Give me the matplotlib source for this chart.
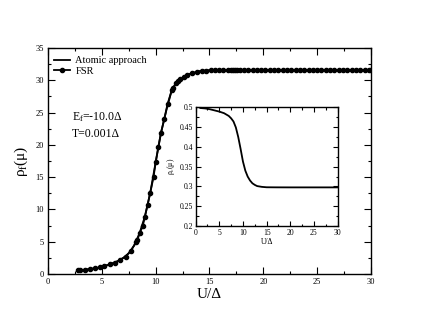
import matplotlib
matplotlib.use("Agg")
import matplotlib.pyplot as plt
from matplotlib.ticker import MultipleLocator

plt.rcParams['font.family'] = ['Liberation Serif', 'DejaVu Serif']
plt.rcParams['mathtext.fontset'] = 'custom'
plt.rcParams['mathtext.rm'] = 'Liberation Serif'
plt.rcParams['mathtext.it'] = 'Liberation Serif:italic'

# FSR data (main panel)
fsr_u = [2.8, 3.0, 3.4, 3.9, 4.4, 4.8, 5.2, 5.8, 6.2, 6.7, 7.2, 7.7, 8.2, 8.3,
         8.5, 8.8, 9.0, 9.25, 9.5, 9.8, 10.0, 10.25, 10.5, 10.8, 11.1, 11.5,
         11.6, 11.9, 12.1, 12.3, 12.6, 12.9, 13.4, 13.8, 14.3, 14.7, 15.1,
         15.5, 15.9, 16.3, 16.7, 17.0, 17.2, 17.4, 17.6, 17.8, 18.2, 18.6,
         19.0, 19.4, 19.8, 20.2, 20.6, 21.0, 21.4, 21.8, 22.2, 22.6, 23.0,
         23.4, 23.8, 24.2, 24.6, 25.0, 25.4, 25.8, 26.2, 26.6, 27.0, 27.4,
         27.8, 28.2, 28.6, 29.0, 29.4, 29.8, 30.0]
fsr_rho = [0.55, 0.57, 0.62, 0.77, 0.88, 1.03, 1.24, 1.5, 1.75, 2.2, 2.7, 3.6,
           5.0, 5.2, 6.3, 7.4, 8.9, 10.7, 12.6, 15.0, 17.3, 19.7, 21.9, 24.0,
           26.3, 28.5, 28.8, 29.6, 29.9, 30.2, 30.5, 30.8, 31.1, 31.25, 31.45,
           31.5, 31.55, 31.58, 31.6, 31.6, 31.6, 31.6, 31.6, 31.6, 31.6, 31.6,
           31.6, 31.6, 31.6, 31.6, 31.6, 31.6, 31.6, 31.6, 31.6, 31.6, 31.6,
           31.6, 31.6, 31.6, 31.6, 31.6, 31.6, 31.6, 31.6, 31.6, 31.6, 31.6,
           31.6, 31.6, 31.6, 31.6, 31.6, 31.6, 31.6, 31.6, 31.6]

# Atomic approach (main panel)
atomic_u = [2.8, 3.5, 4.5, 5.5, 6.5, 7.0, 7.5, 8.0, 8.5, 9.0, 9.5, 10.0, 10.5,
            11.0, 11.5, 12.0, 12.5, 13.0, 14.0, 15.0, 16.0, 20.0, 25.0, 30.0]
atomic_rho = [0.55, 0.68, 0.9, 1.35, 2.0, 2.5, 3.2, 4.4, 6.3, 8.9, 12.6, 17.3,
              21.9, 25.4, 28.5, 29.8, 30.4, 30.9, 31.4, 31.55, 31.6, 31.6,
              31.6, 31.6]

# Inset: rho_c
inset_u = [1.0, 2.0, 3.0, 4.0, 5.0, 6.0, 7.0, 7.5, 8.0, 8.5, 9.0, 9.5, 10.0,
           10.5, 11.0, 11.5, 12.0, 12.5, 13.0, 14.0, 15.0, 17.0, 20.0, 25.0, 30.0]
inset_rho = [0.498, 0.497, 0.495, 0.492, 0.489, 0.485, 0.478, 0.472, 0.464,
             0.449, 0.425, 0.395, 0.363, 0.340, 0.325, 0.315, 0.308, 0.304,
             0.301, 0.299, 0.298, 0.2978, 0.2977, 0.2977, 0.2977]

fig = plt.figure(figsize=(4.30, 3.32), dpi=100)
ax = fig.add_axes([0.1116, 0.1747, 0.7512, 0.6807])

ax.plot(atomic_u, atomic_rho, color='black', lw=1.3, label='Atomic approach')
ax.plot(fsr_u, fsr_rho, color='black', lw=1.3, marker='o', ms=3.0,
        label='FSR')

ax.set_xlim(0, 30)
ax.set_ylim(0, 35)
ax.xaxis.set_major_locator(MultipleLocator(5))
ax.xaxis.set_minor_locator(MultipleLocator(2.5))
ax.yaxis.set_major_locator(MultipleLocator(5))
ax.yaxis.set_minor_locator(MultipleLocator(2.5))
ax.tick_params(which='both', direction='in', top=True, right=True,
               labelsize=6, width=0.8, pad=3)
ax.tick_params(which='major', length=5)
ax.tick_params(which='minor', length=2.5)
for s in ax.spines.values():
    s.set_linewidth(1.0)

ax.set_xlabel('U/Δ', fontsize=11, labelpad=1)
ax.set_ylabel('ρ$_\\mathrm{f}$(μ)', fontsize=11, labelpad=4)

ax.legend(loc='upper left', bbox_to_anchor=(0.02, 0.965), frameon=False,
          fontsize=7.5, handlelength=1.5, handletextpad=0.5,
          labelspacing=0.15, borderaxespad=0, borderpad=0)

ax.text(0.074, 0.68, 'E$_\\mathrm{f}$=-10.0Δ', transform=ax.transAxes,
        fontsize=8.5, va='baseline')
ax.text(0.074, 0.607, 'T=0.001Δ', transform=ax.transAxes,
        fontsize=8.5, va='baseline')

# Inset
ins = fig.add_axes([0.455, 0.319, 0.330, 0.358])
ins.plot(inset_u, inset_rho, color='black', lw=1.3)
ins.set_xlim(0, 30)
ins.set_ylim(0.2, 0.5)
ins.xaxis.set_major_locator(MultipleLocator(5))
ins.xaxis.set_minor_locator(MultipleLocator(2.5))
ins.yaxis.set_major_locator(MultipleLocator(0.05))
ins.yaxis.set_minor_locator(MultipleLocator(0.025))
ins.tick_params(which='both', direction='in', top=True, right=True,
                labelsize=5.5, width=0.8, pad=2)
ins.tick_params(which='major', length=3.5)
ins.tick_params(which='minor', length=1.8)
ins.yaxis.set_major_formatter(matplotlib.ticker.FuncFormatter(
    lambda v, p: f'{v:g}'))
for s in ins.spines.values():
    s.set_linewidth(1.0)
ins.set_xlabel('U/Δ', fontsize=5.5, labelpad=1)
ins.set_ylabel('ρ$_\\mathrm{c}$(μ)', fontsize=5.5, labelpad=2)

fig.savefig('out.png', dpi=100)
